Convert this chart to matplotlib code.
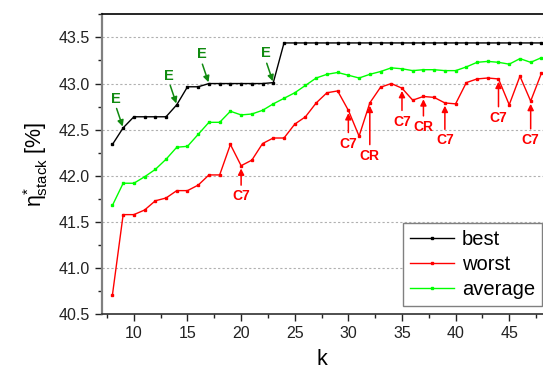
import numpy as np
import matplotlib
matplotlib.use('Agg')
import matplotlib.pyplot as plt
from matplotlib.ticker import MultipleLocator

plt.rcParams['font.family'] = ['Liberation Sans', 'DejaVu Sans']
plt.rcParams['mathtext.fontset'] = 'custom'
plt.rcParams['mathtext.rm'] = 'Liberation Sans'
plt.rcParams['mathtext.it'] = 'Liberation Sans'

# data
k = np.arange(8, 49)
best = [42.34, 42.52, 42.64, 42.64, 42.64, 42.64, 42.77, 42.965, 42.965, 43.0,
        43.0, 43.0, 43.0, 43.0, 43.0, 43.01] + [43.44] * 25
worst = [40.71, 41.58, 41.58, 41.63, 41.73, 41.76, 41.84, 41.84, 41.90, 42.01,
         42.01, 42.34, 42.11, 42.17, 42.35, 42.41, 42.41, 42.56, 42.64, 42.79,
         42.90, 42.92, 42.71, 42.43, 42.79, 42.96, 43.00, 42.95, 42.82, 42.86,
         42.85, 42.79, 42.78, 43.01, 43.05, 43.06, 43.05, 42.77, 43.08, 42.81,
         43.11]
average = [41.68, 41.92, 41.92, 41.99, 42.07, 42.18, 42.31, 42.32, 42.45, 42.58,
           42.58, 42.70, 42.66, 42.67, 42.71, 42.78, 42.84, 42.90, 42.98, 43.06,
           43.10, 43.12, 43.09, 43.06, 43.10, 43.13, 43.17, 43.16, 43.14, 43.15,
           43.15, 43.14, 43.14, 43.18, 43.23, 43.24, 43.23, 43.21, 43.27, 43.23,
           43.28]

e_k = [9, 14, 17, 23]
c_k = [20, 30, 32, 35, 37, 39, 44, 47]
c_labels = ['C7', 'C7', 'CR', 'C7', 'CR', 'C7', 'C7', 'C7']
c_drop = [17, 19, 33, 19, 17, 22, 23, 23]   # label offset below point (pt)

fig = plt.figure(figsize=(5.43, 3.71), dpi=100)
ax = fig.add_axes([0.1873, 0.1528, 0.8127, 0.8086])

ax.plot(k, best, '-s', color='black', lw=1, ms=1.6, label='best')
ax.plot(k, worst, '-s', color='#ff0000', lw=1, ms=1.6, label='worst')
ax.plot(k, average, '-s', color='#00ff00', lw=1, ms=1.6, label='average')

ax.set_xlim(7, 48.15)
ax.set_ylim(40.5, 43.75)
ax.xaxis.set_major_locator(MultipleLocator(5))
ax.xaxis.set_minor_locator(MultipleLocator(2.5))
ax.yaxis.set_major_locator(MultipleLocator(0.5))
ax.yaxis.set_minor_locator(MultipleLocator(0.25))
ax.yaxis.set_major_formatter(plt.FormatStrFormatter('%.1f'))
ax.tick_params(which='both', direction='out', labelsize=11.5, colors='#222222')
ax.tick_params(which='major', length=5, width=1)
ax.tick_params(which='minor', length=3, width=1)

for y in np.arange(41.0, 43.6, 0.5):
    ax.axhline(y, color='#b0b0b0', lw=0.8, ls=(0, (2, 2)), zorder=0)

ax.spines['right'].set_visible(False)
ax.spines['left'].set_color('#808080')
ax.spines['left'].set_linewidth(1.6)
ax.spines['bottom'].set_color('#303030')
ax.spines['bottom'].set_linewidth(1.2)
ax.spines['top'].set_linewidth(1.2)

ax.set_xlabel('k', fontsize=15.5, labelpad=5.5)
ax.set_ylabel(r'$\eta^{*}_{\mathrm{stack}}$ [%]', fontsize=15.5, labelpad=6)

for kk in e_k:
    yv = best[kk - 8]
    ax.annotate('E', xy=(kk, yv), xytext=(-5.4, 21), textcoords='offset points',
                ha='center', va='center', color='#108a10', fontsize=10.5,
                fontweight='bold',
                arrowprops=dict(arrowstyle='-|>', color='#108a10', lw=1.1,
                                mutation_scale=9, shrinkA=0, shrinkB=1,
                                relpos=(0.5, 0.0)))

for kk, lab, d in zip(c_k, c_labels, c_drop):
    yv = worst[kk - 8]
    ax.annotate(lab, xy=(kk, yv), xytext=(0, -d), textcoords='offset points',
                ha='center', va='top', color='#ff0000', fontsize=10,
                fontweight='bold',
                arrowprops=dict(arrowstyle='-|>', color='#ff0000', lw=1.1,
                                mutation_scale=9, shrinkA=1, shrinkB=2,
                                relpos=(0.5, 1.0)))

leg = ax.legend(loc='lower right', bbox_to_anchor=(0.998, 0.028), fontsize=14.5,
                fancybox=False, edgecolor='#808080', framealpha=1,
                borderpad=0.35, labelspacing=0.3, handlelength=2.2,
                handletextpad=0.4, borderaxespad=0)
leg.get_frame().set_linewidth(1.0)

fig.savefig('out.png', dpi=100)
